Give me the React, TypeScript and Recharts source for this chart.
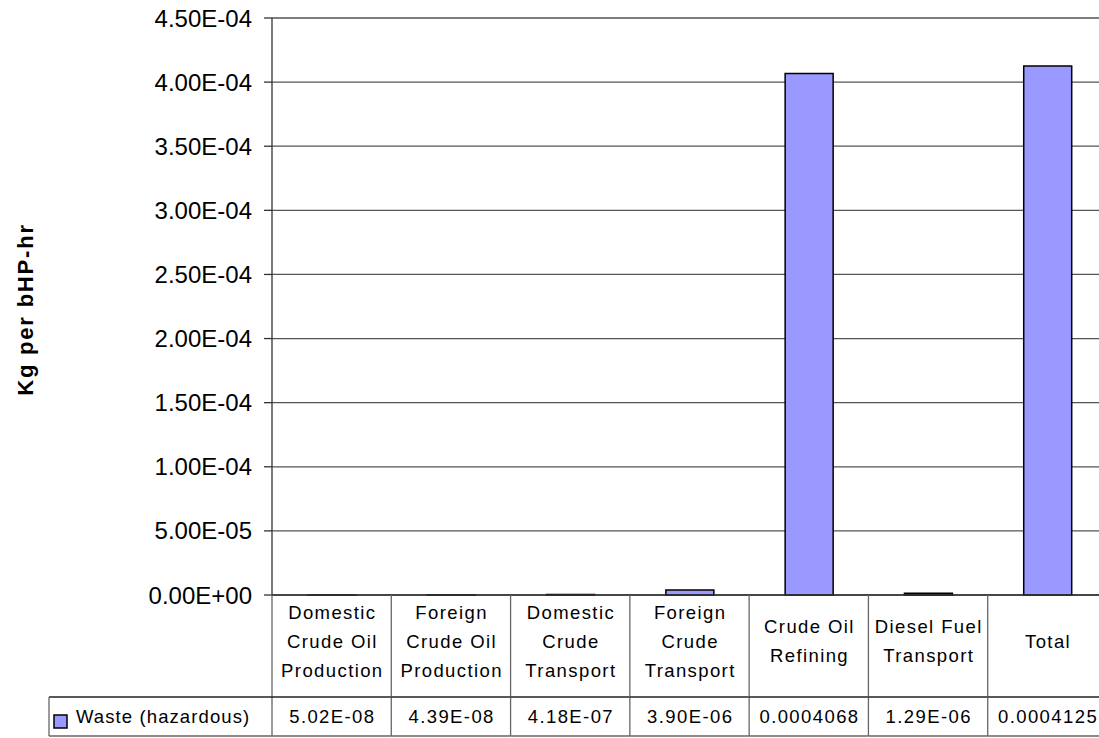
import { BarChart, Bar, XAxis, YAxis, CartesianGrid } from 'recharts';

const categories = [
  'Domestic Crude Oil Production',
  'Foreign Crude Oil Production',
  'Domestic Crude Transport',
  'Foreign Crude Transport',
  'Crude Oil Refining',
  'Diesel Fuel Transport',
  'Total',
];

const categoryLines = [
  ['Domestic', 'Crude Oil', 'Production'],
  ['Foreign', 'Crude Oil', 'Production'],
  ['Domestic', 'Crude', 'Transport'],
  ['Foreign', 'Crude', 'Transport'],
  ['Crude Oil', 'Refining'],
  ['Diesel Fuel', 'Transport'],
  ['Total'],
];

const wasteValues = [5.02e-8, 4.39e-8, 4.18e-7, 3.9e-6, 0.0004068, 1.29e-6, 0.0004125];
const wasteLabels = ['5.02E-08', '4.39E-08', '4.18E-07', '3.90E-06', '0.0004068', '1.29E-06', '0.0004125'];

const yTicks = [0, 0.00005, 0.0001, 0.00015, 0.0002, 0.00025, 0.0003, 0.00035, 0.0004, 0.00045];

const SERIES_NAME = 'Waste (hazardous)';
const BAR_FILL = '#9999FF';
const FONT = '"Liberation Sans", Arial, sans-serif';

const CHART_W = 1110;
const CHART_H = 738;
const PLOT_LEFT = 272;
const PLOT_RIGHT = 1107;
const TABLE_H = 141;
const HEADER_H = 102;
const COL_W = (PLOT_RIGHT - PLOT_LEFT) / categories.length;

const data = categories.map((name, i) => ({ name, idx: i, waste: wasteValues[i] }));

function formatSci(v: number): string {
  if (v === 0) return '0.00E+00';
  const [mant, exp] = v.toExponential(2).split('e');
  const n = parseInt(exp, 10);
  return `${mant}E${n < 0 ? '-' : '+'}${String(Math.abs(n)).padStart(2, '0')}`;
}

const tableText = { fontFamily: FONT, fontSize: 18.5, letterSpacing: 1.4, fill: '#000' };

// Each x tick draws its own column of the data table below the plot.
function TableTick(props: any) {
  const { x, y, payload, index } = props;
  const i = payload?.index ?? index;
  const lines = categoryLines[i] ?? [];
  const left = x - COL_W / 2;
  const right = x + COL_W / 2;
  const lineGap = 29;
  const center = y + 46;

  return (
    <g>
      <line x1={left} y1={y} x2={left} y2={y + TABLE_H} stroke="#666" strokeWidth={1.3} />
      {i === categories.length - 1 && (
        <line x1={right} y1={y} x2={right} y2={y + TABLE_H} stroke="#666" strokeWidth={1.3} />
      )}
      <line x1={left} y1={y + HEADER_H} x2={right} y2={y + HEADER_H} stroke="#222" strokeWidth={1.3} />
      <line x1={left} y1={y + TABLE_H} x2={right} y2={y + TABLE_H} stroke="#666" strokeWidth={1.3} />
      {lines.map((ln, k) => (
        <text
          key={k}
          x={x + 0.7}
          y={center + (k - (lines.length - 1) / 2) * lineGap}
          textAnchor="middle"
          dominantBaseline="central"
          style={tableText}
        >
          {ln}
        </text>
      ))}
      <text x={x + 0.7} y={y + 121} textAnchor="middle" dominantBaseline="central" style={tableText}>
        {wasteLabels[i]}
      </text>
      {i === 0 && (
        <g>
          <line x1={49} y1={y + HEADER_H} x2={left} y2={y + HEADER_H} stroke="#222" strokeWidth={1.3} />
          <line x1={49} y1={y + TABLE_H} x2={left} y2={y + TABLE_H} stroke="#666" strokeWidth={1.3} />
          <line x1={49} y1={y + HEADER_H} x2={49} y2={y + TABLE_H} stroke="#666" strokeWidth={1.3} />
          <rect x={54} y={y + 120} width={13} height={13} fill={BAR_FILL} stroke="#000" strokeWidth={1.5} />
          <text x={76} y={y + 121} dominantBaseline="central" style={{ ...tableText, letterSpacing: 1.1 }}>
            {SERIES_NAME}
          </text>
        </g>
      )}
    </g>
  );
}

function YTitle(props: any) {
  const vb = props.viewBox ?? { y: 18, height: 577 };
  const cy = vb.y + vb.height / 2 + 3;
  const cx = 25;
  return (
    <text
      x={cx}
      y={cy}
      transform={`rotate(-90, ${cx}, ${cy})`}
      textAnchor="middle"
      dominantBaseline="central"
      style={{ fontFamily: FONT, fontSize: 22, fontWeight: 'bold', letterSpacing: 1.8, fill: '#000' }}
    >
      Kg per bHP-hr
    </text>
  );
}

export default function App() {
  return (
    <div style={{ position: 'absolute', left: 0, top: 0, width: 1099, height: 738, overflow: 'hidden', background: '#fff' }}>
      <BarChart
        width={CHART_W}
        height={CHART_H}
        data={data}
        margin={{ top: 18, right: CHART_W - PLOT_RIGHT, left: 0, bottom: CHART_H - 18 - 577 - TABLE_H }}
      >
        <CartesianGrid vertical={false} stroke="#555" strokeWidth={1.3} />
        <XAxis
          dataKey="idx"
          type="category"
          height={TABLE_H}
          interval={0}
          tickLine={false}
          tickSize={0}
          tickMargin={0}
          axisLine={{ stroke: '#333', strokeWidth: 1.3 }}
          tick={<TableTick />}
        />
        <YAxis
          width={PLOT_LEFT}
          domain={[0, 0.00045]}
          ticks={yTicks}
          interval={0}
          tickFormatter={formatSci}
          tickSize={8}
          tickMargin={12}
          axisLine={{ stroke: '#333', strokeWidth: 1.3 }}
          tickLine={{ stroke: '#333', strokeWidth: 1.3 }}
          tick={{ fontFamily: FONT, fontSize: 24, fill: '#000' }}
          label={<YTitle />}
        />
        <Bar
          dataKey="waste"
          name={SERIES_NAME}
          fill={BAR_FILL}
          stroke="#000"
          strokeWidth={1.5}
          barSize={48}
          isAnimationActive={false}
        />
      </BarChart>
    </div>
  );
}
